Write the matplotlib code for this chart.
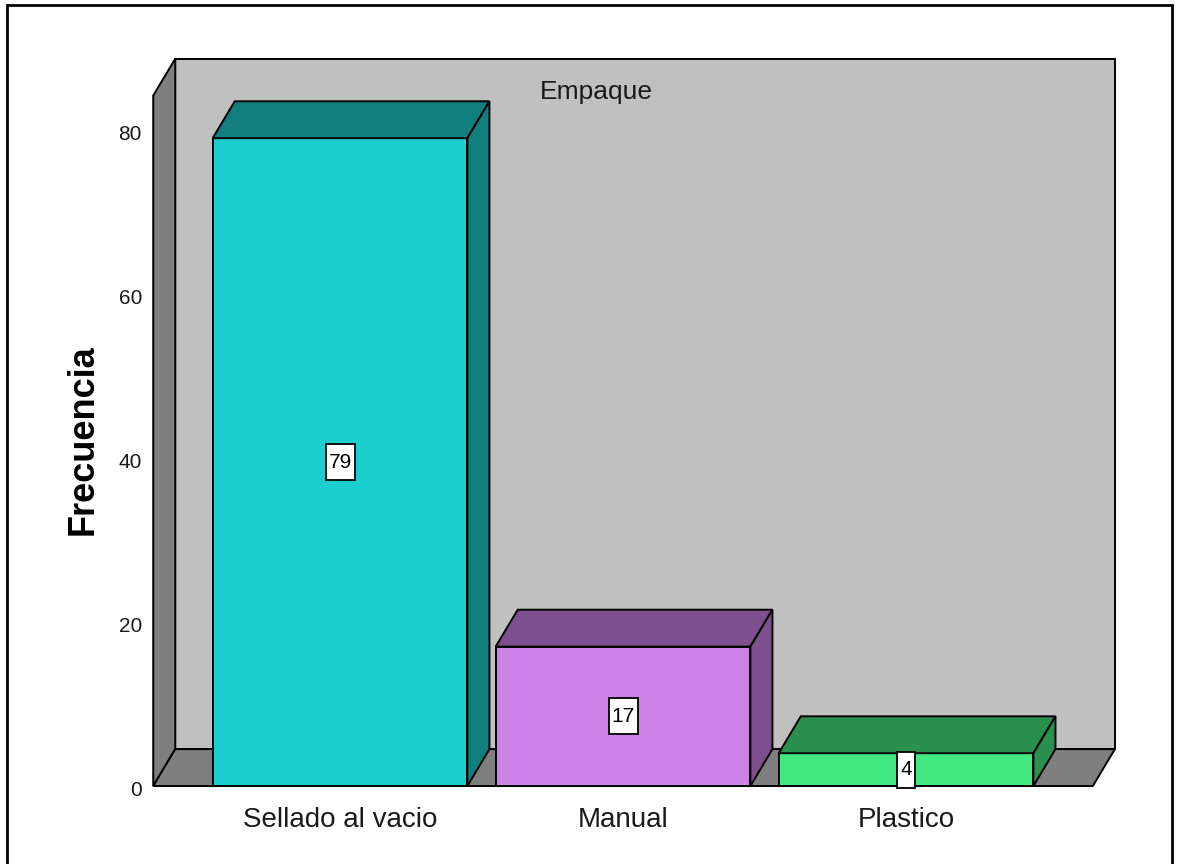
import matplotlib
matplotlib.use('Agg')
import matplotlib.pyplot as plt
from matplotlib.patches import Polygon, Rectangle

# data
categories = ['Sellado al vacio', 'Manual', 'Plastico']
counts = [79, 17, 4]
yticks = [0, 20, 40, 60, 80]
front_colors = ['#1ccfcf', '#cc82e6', '#42e880']
shade_colors = ['#127f7f', '#7e4f8e', '#29904f']

plt.rcParams['font.family'] = ['Liberation Sans', 'DejaVu Sans']

fig = plt.figure(figsize=(11.8, 8.64), dpi=100)
ax = fig.add_axes([0, 0, 1, 1])
ax.set_xlim(-1.2014, 2.968)
ax.set_ylim(-9.51, 95.85)
ax.axis('off')

# 3D depth offsets and frame extents
dx, dy = 0.078, 4.5
x0, x1 = -0.66, 2.66
ytop = 84.2
half = 0.45
lw = 1.4

# back wall, left wall, floor
ax.add_patch(Polygon([(x0 + dx, dy), (x1 + dx, dy), (x1 + dx, ytop + dy), (x0 + dx, ytop + dy)],
                     facecolor='#c0c0c0', edgecolor='black', lw=lw))
ax.add_patch(Polygon([(x0, 0), (x0 + dx, dy), (x0 + dx, ytop + dy), (x0, ytop)],
                     facecolor='#7f7f7f', edgecolor='black', lw=lw))
ax.add_patch(Polygon([(x0, 0), (x1, 0), (x1 + dx, dy), (x0 + dx, dy)],
                     facecolor='#7f7f7f', edgecolor='black', lw=lw))

# bars
for i, (v, fc, sc) in enumerate(zip(counts, front_colors, shade_colors)):
    l, r = i - half, i + half
    ax.add_patch(Polygon([(l, 0), (r, 0), (r, v), (l, v)], facecolor=fc, edgecolor='black', lw=lw))
    ax.add_patch(Polygon([(l, v), (r, v), (r + dx, v + dy), (l + dx, v + dy)],
                         facecolor=sc, edgecolor='black', lw=lw))
    ax.add_patch(Polygon([(r, 0), (r + dx, dy), (r + dx, v + dy), (r, v)],
                         facecolor=sc, edgecolor='black', lw=lw))
    # value label box
    bw = (6 + 11.5 * len(str(v))) / 283
    bh = 36 / 8.2
    ax.add_patch(Rectangle((i - bw / 2, v / 2 - bh / 2), bw, bh, facecolor='white',
                           edgecolor='black', lw=1.3, zorder=3))
    ax.text(i, v / 2, str(v), ha='center', va='center', fontsize=15, zorder=4)
    ax.text(i, -4.2, categories[i], ha='center', va='center', fontsize=20, color='#1a1a1a')

# y tick labels
for t in yticks:
    ax.text(x0 - 0.04, t - 0.6, str(t), ha='right', va='center', fontsize=15, color='#1a1a1a')

ax.text(-0.908, 42.2, 'Frecuencia', rotation=90, ha='center', va='center',
        fontsize=26, fontweight='bold')
ax.text(0.905, 84.6, 'Empaque', ha='center', va='center', fontsize=19, color='#1a1a1a')

# outer border
fig.add_artist(Rectangle((7 / 1180, -0.02), 1165 / 1180, 0.02 + 859 / 864,
                         transform=fig.transFigure, fill=False, edgecolor='black', lw=2))

fig.savefig('out.png', dpi=100)
